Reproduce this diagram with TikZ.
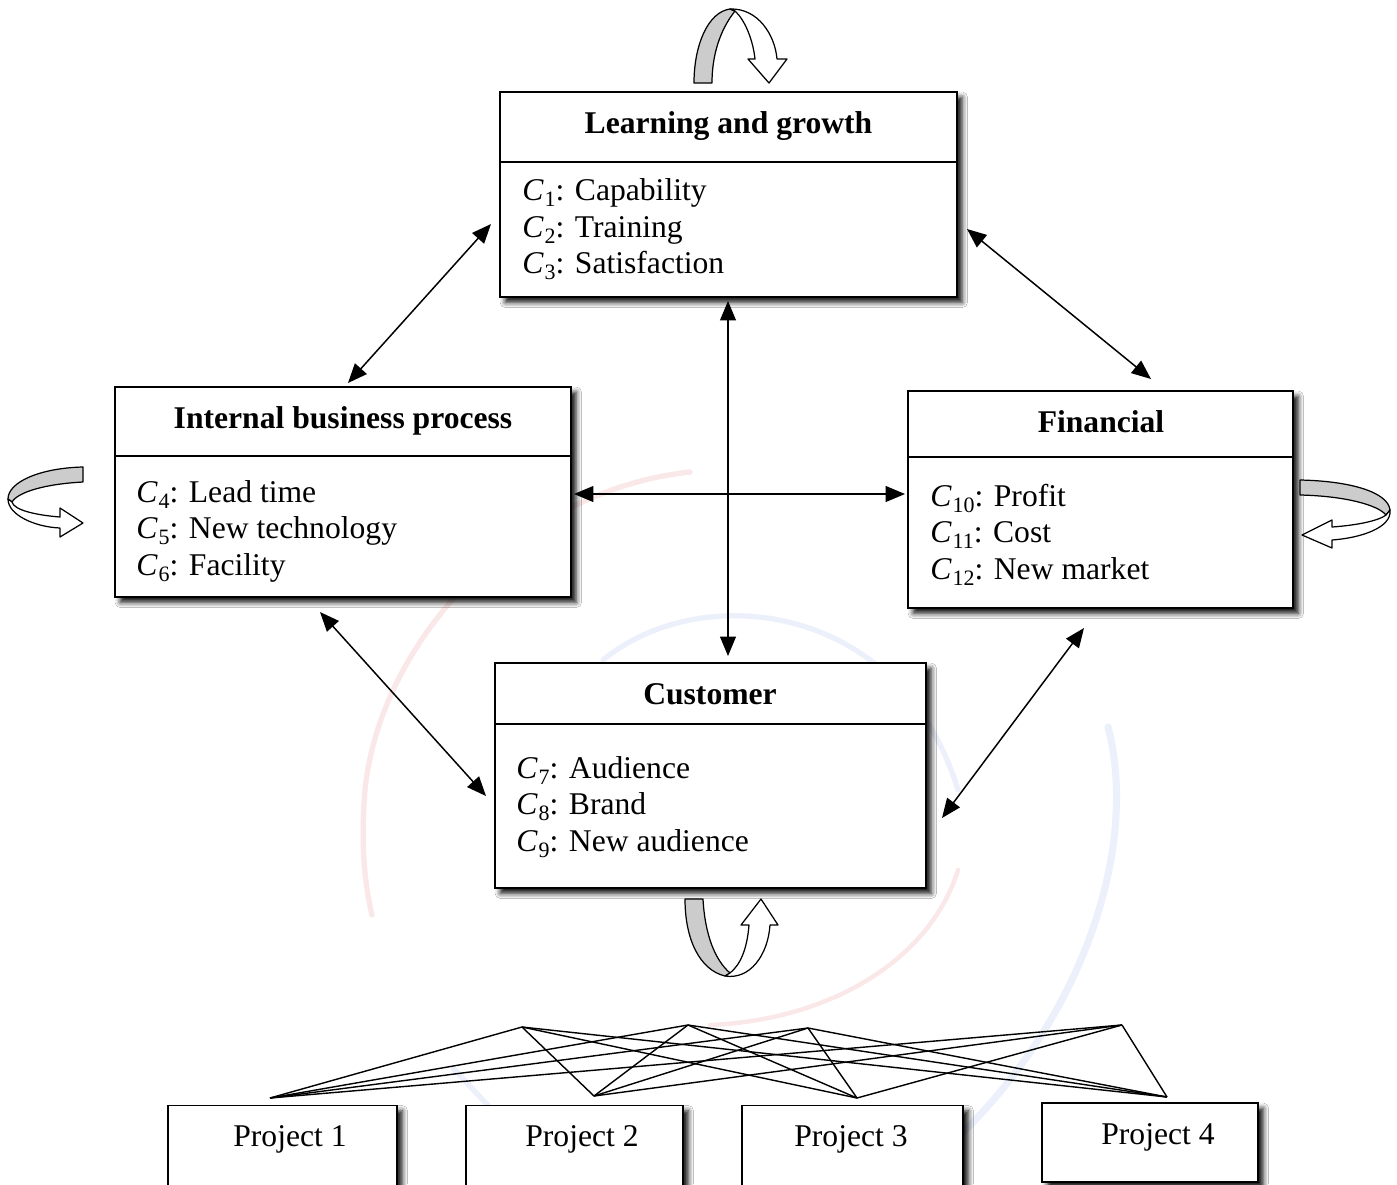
\documentclass[tikz,border=0pt]{standalone}
\usepackage{fontspec}
\setmainfont{Liberation Serif}
\usetikzlibrary{arrows.meta,shadows.blur,calc}
\newcommand{\cc}[1]{\textit{C}\kern0.5pt\raisebox{-0.22em}{\fontsize{12.5}{14}\selectfont #1}}
\definecolor{wmred}{RGB}{250,232,232}
\definecolor{wmblue}{RGB}{236,240,250}
\definecolor{ribbon}{RGB}{204,204,204}
\begin{document}
\begin{tikzpicture}[x=0.02cm,y=-0.02cm,
  box/.style={draw, line width=1.1pt, fill=white, rectangle, inner sep=0pt,
    blur shadow={shadow xshift=3pt, shadow yshift=-3pt, shadow blur radius=3pt, shadow opacity=95}},
  divider/.style={line width=1.1pt},
  ttl/.style={font=\fontsize{18}{21}\selectfont\bfseries, anchor=base, inner sep=0pt},
  item/.style={font=\fontsize{18}{21}\selectfont, anchor=base west, inner sep=0pt},
  proj/.style={font=\fontsize{18}{21}\selectfont, anchor=base, inner sep=0pt},
  link/.style={line width=0.85pt, {Triangle[length=11pt,width=9pt]}-{Triangle[length=11pt,width=9pt]}},
  web/.style={line width=0.8pt},
  rib/.style={draw, line width=0.7pt, line join=round},
  wm/.style={line cap=round}
]
\useasboundingbox[fill=white] (0,0) rectangle (1397,1184);

% watermark
\draw[wm, wmred, line width=3pt] (690,472) .. controls (520,490) and (380,640) .. (365,790) .. controls (360,850) and (366,890) .. (372,915);
\draw[wm, wmred, line width=2.5pt] (958,870) .. controls (930,960) and (830,1020) .. (710,1025);
\draw[wm, wmblue, line width=3pt] (603,660) .. controls (700,580) and (900,600) .. (958,790);
\draw[wm, wmblue, line width=4pt] (1108,727) .. controls (1140,850) and (1080,1020) .. (960,1135);
\draw[wm, wmblue, line width=3pt] (453,1068) -- (496,1114);

% perspective boxes
\node[box, minimum width=9.14cm, minimum height=4.1cm] (lg) at (728.5,194.5) {};
\draw[divider] ($(lg.north west)+(0,71)$) -- ($(lg.north east)+(0,71)$);
\node[ttl] (lgt) at (728.5,133) {Learning and growth};
\node[item] (c1) at (522,200) {\cc{1}: Capability};
\node[item] (c2) at (522,237) {\cc{2}: Training};
\node[item] (c3) at (522,273) {\cc{3}: Satisfaction};

\node[box, minimum width=9.12cm, minimum height=4.2cm] (ibp) at (343,492) {};
\draw[divider] ($(ibp.north west)+(0,70)$) -- ($(ibp.north east)+(0,70)$);
\node[ttl] (ibpt) at (343,428) {Internal business process};
\node[item] (c4) at (136,502) {\cc{4}: Lead time};
\node[item] (c5) at (136,538) {\cc{5}: New technology};
\node[item] (c6) at (136,575) {\cc{6}: Facility};

\node[box, minimum width=7.7cm, minimum height=4.34cm] (fin) at (1100.5,499.5) {};
\draw[divider] ($(fin.north west)+(0,67)$) -- ($(fin.north east)+(0,67)$);
\node[ttl] (fint) at (1101,432) {Financial};
\node[item] (c10) at (930,506) {\cc{10}: Profit};
\node[item] (c11) at (930,542) {\cc{11}: Cost};
\node[item] (c12) at (930,579) {\cc{12}: New market};

\node[box, minimum width=8.62cm, minimum height=4.5cm] (cus) at (710.5,775.5) {};
\draw[divider] ($(cus.north west)+(0,62)$) -- ($(cus.north east)+(0,62)$);
\node[ttl] (cust) at (710,704) {Customer};
\node[item] (c7) at (516,778) {\cc{7}: Audience};
\node[item] (c8) at (516,814) {\cc{8}: Brand};
\node[item] (c9) at (516,851) {\cc{9}: New audience};

% project boxes
\node[box, minimum width=4.58cm, minimum height=1.62cm] (p1) at (282.5,1146) {};
\node[proj] (p1t) at (290,1146) {Project 1};
\node[box, minimum width=4.34cm, minimum height=1.62cm] (p2) at (574.5,1146) {};
\node[proj] (p2t) at (582,1146) {Project 2};
\node[box, minimum width=4.42cm, minimum height=1.62cm] (p3) at (852.5,1146) {};
\node[proj] (p3t) at (851,1146) {Project 3};
\node[box, minimum width=4.32cm, minimum height=1.58cm] (p4) at (1150,1142.5) {};
\node[proj] (p4t) at (1158,1144) {Project 4};

% double arrows
\coordinate (a1s) at (491,224); \coordinate (a1e) at (348,383);
\coordinate (a2s) at (967,229); \coordinate (a2e) at (1151,379);
\coordinate (a3s) at (728,301); \coordinate (a3e) at (728,656);
\coordinate (a4s) at (574,494); \coordinate (a4e) at (905,494);
\coordinate (a5s) at (320,612); \coordinate (a5e) at (486,796);
\coordinate (a6s) at (1084,628); \coordinate (a6e) at (942,818);
\draw[link] (a1s) -- (a1e);
\draw[link] (a2s) -- (a2e);
\draw[link] (a3s) -- (a3e);
\draw[link] (a4s) -- (a4e);
\draw[link] (a5s) -- (a5e);
\draw[link] (a6s) -- (a6e);

% web between perspectives and projects
\coordinate (ta) at (522,1027); \coordinate (tb) at (688,1025);
\coordinate (tc) at (808,1028); \coordinate (td) at (1122,1025);
\coordinate (pa) at (270,1098); \coordinate (pb) at (594,1096);
\coordinate (pc) at (857,1098); \coordinate (pd) at (1167,1097);
\foreach \t in {ta,tb,tc,td}
  \foreach \p in {pa,pb,pc,pd}
    \draw[web] (\t) -- (\p);

% self-loop ribbons
% top
\filldraw[rib, fill=ribbon] (694,83) .. controls (694,45) and (708,12) .. (730,9) -- (735,11) .. controls (720,30) and (712,55) .. (712,83) -- cycle;
\filldraw[rib, fill=white] (730,9) .. controls (758,8) and (775,35) .. (777,59) -- (787,59) -- (769,83) -- (748,59) -- (755,59) .. controls (753,40) and (745,20) .. (735,11) -- cycle;
% left
\filldraw[rib, fill=ribbon] (83,467) .. controls (40,468) and (8,482) .. (8,499) -- (12,502) .. controls (18,492) and (45,484) .. (83,482) -- cycle;
\filldraw[rib, fill=white] (8,499) .. controls (8,515) and (35,527) .. (60,528) -- (60,537) -- (83,523) -- (60,508) -- (60,517) .. controls (35,515) and (14,510) .. (12,502) -- cycle;
% right
\filldraw[rib, fill=ribbon] (1300,480) .. controls (1350,481) and (1388,492) .. (1390,510) -- (1386,515) .. controls (1378,505) and (1345,496) .. (1300,495) -- cycle;
\filldraw[rib, fill=white] (1390,510) .. controls (1392,528) and (1360,538) .. (1332,540) -- (1332,548) -- (1302,535) -- (1332,520) -- (1332,527) .. controls (1360,525) and (1380,520) .. (1386,515) -- cycle;
% bottom
\filldraw[rib, fill=ribbon] (685,899) -- (703,899) .. controls (705,935) and (715,960) .. (730,973) -- (725,976) .. controls (700,970) and (685,940) .. (685,899) -- cycle;
\filldraw[rib, fill=white] (725,976) .. controls (750,980) and (768,955) .. (770,925) -- (778,925) -- (761,899) -- (741,925) -- (749,925) .. controls (747,950) and (740,965) .. (730,973) -- cycle;
\end{tikzpicture}
\end{document}
